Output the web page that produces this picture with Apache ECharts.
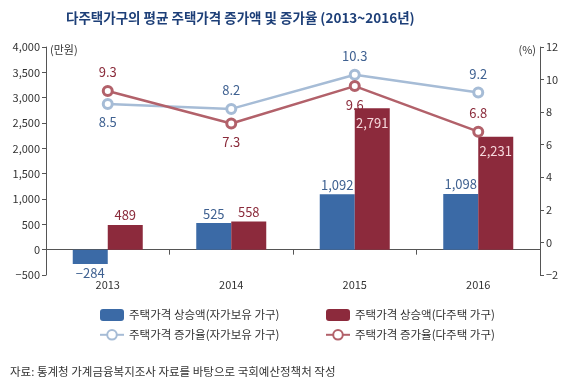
<!DOCTYPE html>
<html><head><meta charset="utf-8">
<script src="https://cdn.jsdelivr.net/npm/echarts@6/dist/echarts.min.js"></script>
<style>html,body{margin:0;padding:0;background:#fff}#c{width:575px;height:388px}</style>
</head><body><div id="c"></div>
<script>
const categories = ['2013', '2014', '2015', '2016'];
const ownerAmount = [-284, 525, 1092, 1098];
const multiAmount = [489, 558, 2791, 2231];
const ownerRate = [8.5, 8.2, 10.3, 9.2];
const multiRate = [9.3, 7.3, 9.6, 6.8];
const leftTicks = [-500, 4000, 500];
const rightTicks = [-2, 12, 2];
const names = ['주택가격 상승액(자가보유 가구)', '주택가격 상승액(다주택 가구)', '주택가격 증가율(자가보유 가구)', '주택가격 증가율(다주택 가구)'];

const FONT = '"Noto Sans CJK KR", "Noto Sans", sans-serif';
const BLUE = '#3b6aa6', RED = '#8c2a3c', LBLUE = '#a6bcd6', LRED = '#b2616a';
const BLUE_T = '#3f6191', RED_T = '#8a2a3a';
const fmt = v => (v < 0 ? '−' : '') + Math.abs(v).toLocaleString('en-US');

const chart = echarts.init(document.getElementById('c'), null, {renderer: 'canvas'});
const axisCol = '#555';
chart.setOption({
  animation: false,
  textStyle: {fontFamily: FONT},
  title: {
    text: '다주택가구의 평균 주택가격 증가액 및 증가율 (2013~2016년)',
    left: 61, top: 6,
    textStyle: {fontFamily: FONT, fontSize: 13.5, fontWeight: 'bold', color: '#1d3f78'}
  },
  graphic: [{
    type: 'text', left: 10, top: 366,
    style: {text: '자료: 통계청 가계금융복지조사 자료를 바탕으로 국회예산정책처 작성', font: '11.5px ' + FONT, fill: '#333'}
  }],
  legend: [{
    data: [names[0], names[2]], orient: 'vertical', left: 94, top: 304, itemGap: 8,
    itemWidth: 24, itemHeight: 12, textStyle: {fontFamily: FONT, fontSize: 11.5, color: '#333'}
  }, {
    data: [names[1], names[3]], orient: 'vertical', left: 320, top: 304, itemGap: 8,
    itemWidth: 24, itemHeight: 12, textStyle: {fontFamily: FONT, fontSize: 11.5, color: '#333'}
  }],
  grid: {left: 46, right: 35, top: 47, bottom: 113, containLabel: false},
  xAxis: {
    type: 'category', data: categories,
    axisLine: {onZero: true, lineStyle: {color: axisCol, width: 1}},
    axisTick: {show: true, inside: false, length: 5, lineStyle: {color: axisCol}},
    axisLabel: {margin: 4, fontFamily: FONT, fontSize: 11, color: '#333'}
  },
  yAxis: [{
    type: 'value', min: leftTicks[0], max: leftTicks[1], interval: leftTicks[2],
    name: '(만원)', nameGap: 4, nameLocation: 'end',
    nameTextStyle: {fontFamily: FONT, fontSize: 11, color: '#333', align: 'left', padding: [0, 0, -12, 4]},
    axisLine: {show: true, lineStyle: {color: axisCol}},
    axisTick: {show: true, length: 4, lineStyle: {color: axisCol}},
    splitLine: {show: false},
    axisLabel: {formatter: v => v.toLocaleString('en-US').replace('-', '−'), fontFamily: FONT, fontSize: 11, color: '#333', margin: 6}
  }, {
    type: 'value', min: rightTicks[0], max: rightTicks[1], interval: rightTicks[2],
    name: '(%)', nameGap: 4, nameLocation: 'end',
    nameTextStyle: {fontFamily: FONT, fontSize: 11, color: '#333', align: 'right', padding: [0, 4, -12, 0]},
    axisLine: {show: true, lineStyle: {color: axisCol}},
    axisTick: {show: true, length: 4, lineStyle: {color: axisCol}},
    splitLine: {show: false},
    axisLabel: {formatter: v => String(v).replace('-', '−'), fontFamily: FONT, fontSize: 11, color: '#333', margin: 6}
  }],
  series: [{
    name: names[0], type: 'bar', data: ownerAmount, barWidth: 35, barGap: '0%',
    itemStyle: {color: BLUE},
    label: {show: true, position: 'top', formatter: p => fmt(p.value), fontFamily: FONT, fontSize: 13, color: BLUE_T, distance: 3},
    z: 2
  }, {
    name: names[1], type: 'bar', data: multiAmount, barWidth: 35,
    itemStyle: {color: RED},
    label: {show: true, position: 'top', formatter: p => fmt(p.value), fontFamily: FONT, fontSize: 13, color: RED_T, distance: 3},
    z: 2
  }, {
    name: names[2], type: 'line', yAxisIndex: 1, data: ownerRate,
    symbol: 'circle', symbolSize: 9,
    lineStyle: {color: LBLUE, width: 2.5},
    itemStyle: {color: '#fff', borderColor: LBLUE, borderWidth: 3},
    label: {show: true, position: 'top', fontFamily: FONT, fontSize: 13, color: BLUE_T, distance: 6, formatter: p => p.value.toFixed(1)},
    z: 5
  }, {
    name: names[3], type: 'line', yAxisIndex: 1, data: multiRate,
    symbol: 'circle', symbolSize: 9,
    lineStyle: {color: LRED, width: 2.5},
    itemStyle: {color: '#fff', borderColor: LRED, borderWidth: 3},
    label: {show: true, position: 'top', fontFamily: FONT, fontSize: 13, color: RED_T, distance: 6, formatter: p => p.value.toFixed(1)},
    z: 6
  }]
});

// Per-point label placement adjustments (style only)
const opt = chart.getOption();
const s = opt.series;
s[0].data = ownerAmount.map(v => v < 0 ? {value: v, label: {position: 'bottom'}} : v);
s[1].data = multiAmount.map(v => v > 2000 ? {value: v, label: {position: 'insideTop', color: '#f6d8dc', distance: 8}} : v);
s[2].data = ownerRate.map((v, i) => i === 0 ? {value: v, label: {position: 'bottom'}} : v);
s[3].data = multiRate.map((v, i) => (i === 1 || i === 2) ? {value: v, label: {position: 'bottom'}} : v);
chart.setOption({series: s});
</script></body></html>
